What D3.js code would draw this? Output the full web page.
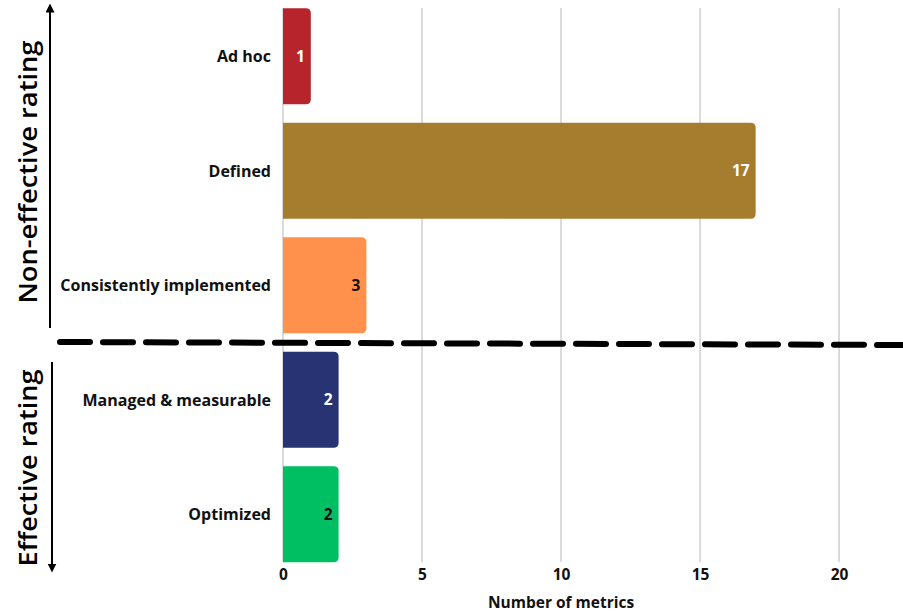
<!DOCTYPE html>
<html><head><meta charset="utf-8">
<script src="https://cdn.jsdelivr.net/npm/d3@7"></script>
<style>body{margin:0;background:#fff}svg{display:block}</style>
</head><body>
<svg id="c" width="903" height="614"></svg>
<script>
const categories = ["Ad hoc","Defined","Consistently implemented","Managed & measurable","Optimized"];
const values = [1,17,3,2,2];
const colors = ["#B8242C","#A67C2E","#FF914D","#283373","#00BF63"];
const labelColors = ["#fff","#fff","#111","#fff","#111"];
const ticks = [0,5,10,15,20];
const groups = ["Non-effective rating","Effective rating"];

const svg = d3.select("#c");
const font = "'Open Sans', Lato, sans-serif";
const x = d3.scaleLinear().domain([0,22.3]).range([283,903]);
const y = d3.scaleBand().domain(categories).range([-1,571.5]).paddingInner(0.16).paddingOuter(0.08);

// gridlines
svg.append("g").selectAll("line").data(ticks).join("line")
  .attr("x1",d=>x(d)).attr("x2",d=>x(d)).attr("y1",8).attr("y2",562)
  .attr("stroke","#cfcfcf").attr("stroke-width",1.5);

// bars with rounded right corners
function barPath(x0,x1,y0,h,r){
  r=Math.min(r,(x1-x0));
  return `M${x0},${y0}H${x1-r}Q${x1},${y0} ${x1},${y0+r}V${y0+h-r}Q${x1},${y0+h} ${x1-r},${y0+h}H${x0}Z`;
}
svg.append("g").selectAll("path").data(categories).join("path")
  .attr("d",(d,i)=>barPath(x(0),x(values[i]),y(d),y.bandwidth(),5))
  .attr("fill",(d,i)=>colors[i]);

// value labels
svg.append("g").selectAll("text").data(categories).join("text")
  .attr("x",(d,i)=>x(values[i])-6).attr("y",d=>y(d)+y.bandwidth()/2)
  .attr("dy","0.36em").attr("text-anchor","end")
  .attr("font-family",font).attr("font-weight",700).attr("font-size",15.5)
  .attr("fill",(d,i)=>labelColors[i]).text((d,i)=>values[i]);

// category labels
svg.append("g").selectAll("text").data(categories).join("text")
  .attr("x",271).attr("y",d=>y(d)+y.bandwidth()/2)
  .attr("dy","0.36em").attr("text-anchor","end")
  .attr("font-family",font).attr("font-weight",700).attr("font-size",16)
  .attr("fill","#111").text(d=>d);

// x tick labels
const xAxis = d3.axisBottom(x).tickValues(ticks).tickSize(0).tickPadding(0);
const ax = svg.append("g").attr("transform","translate(0,569)").call(xAxis);
ax.select(".domain").remove();
ax.selectAll("text").attr("font-family",font).attr("font-weight",700).attr("font-size",15.5).attr("fill","#111");

svg.append("text").attr("x",x(10)).attr("y",608).attr("text-anchor","middle")
  .attr("font-family",font).attr("font-weight",700).attr("font-size",15.5).attr("fill","#111")
  .text("Number of metrics");

// dashed separator
svg.append("line").attr("x1",60).attr("y1",342).attr("x2",903).attr("y2",345)
  .attr("stroke","#000").attr("stroke-width",6).attr("stroke-linecap","round")
  .attr("stroke-dasharray","30 13");

// arrows
const defs = svg.append("defs");
defs.append("marker").attr("id","ah").attr("viewBox","0 0 10 10").attr("refX",5).attr("refY",5)
  .attr("markerWidth",4.5).attr("markerHeight",4.5).attr("orient","auto-start-reverse").attr("markerUnits","strokeWidth")
  .append("path").attr("d","M0,0L10,5L0,10Z").attr("fill","#000");
svg.append("line").attr("x1",50).attr("y1",328).attr("x2",50).attr("y2",8)
  .attr("stroke","#000").attr("stroke-width",2).attr("marker-end","url(#ah)");
svg.append("line").attr("x1",52).attr("y1",362).attr("x2",52).attr("y2",568)
  .attr("stroke","#000").attr("stroke-width",2).attr("marker-end","url(#ah)");

// group labels
const gl = [[172,263],[468,197]];
svg.append("g").selectAll("text").data(groups).join("text")
  .attr("transform",(d,i)=>`translate(37,${gl[i][0]}) rotate(-90)`)
  .attr("text-anchor","middle")
  .attr("font-family","'Open Sans', sans-serif").attr("font-weight",600).attr("font-size",26)
  .attr("textLength",(d,i)=>gl[i][1]).attr("lengthAdjust","spacingAndGlyphs")
  .attr("fill","#000").text(d=>d);
</script>
</body></html>
